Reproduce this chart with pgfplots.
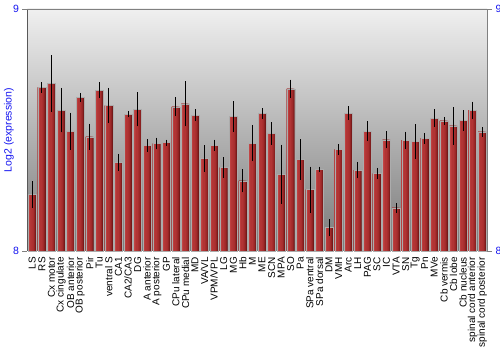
\documentclass[border=0pt]{standalone}
\usepackage{fontspec}
\setmainfont{Liberation Sans}
\usepackage{pgfplots}
\usepackage{pgfplotstable}
\pgfplotsset{compat=1.18}
\definecolor{bA}{RGB}{112,24,24}
\definecolor{bB}{RGB}{138,32,32}
\definecolor{bC}{RGB}{155,40,40}
\definecolor{bD}{RGB}{167,46,46}
\definecolor{bE}{RGB}{177,52,52}
\definecolor{bF}{RGB}{188,62,62}
\definecolor{bG}{RGB}{204,84,84}
\definecolor{lblblue}{RGB}{20,20,240}
\pgfplotstableread{
x y e
0 8.233 0.047
1 8.676 0.013
2 8.692 0.107
3 8.582 0.083
4 8.495 0.068
5 8.634 0.010
6 8.472 0.045
7 8.665 0.023
8 8.601 0.064
9 8.366 0.026
10 8.566 0.004
11 8.585 0.061
12 8.436 0.017
13 8.444 0.015
14 8.448 0.003
15 8.596 0.030
16 8.608 0.084
17 8.561 0.015
18 8.382 0.045
19 8.437 0.014
20 8.345 0.034
21 8.556 0.054
22 8.290 0.039
23 8.446 0.066
24 8.568 0.012
25 8.486 0.037
26 8.317 0.113
27 8.670 0.029
28 8.378 0.074
29 8.254 0.086
30 8.338 0.002
31 8.097 0.026
32 8.419 0.014
33 8.570 0.020
34 8.334 0.025
35 8.495 0.032
36 8.320 0.014
37 8.459 0.026
38 8.178 0.010
39 8.458 0.026
40 8.452 0.062
41 8.466 0.013
42 8.549 0.027
43 8.538 0.007
44 8.517 0.068
45 8.539 0.033
46 8.582 0.026
47 8.492 0.011
}\datatable
\begin{document}
\begin{tikzpicture}
\begin{axis}[
  at={(0,0)}, anchor=south west,
  scale only axis, width=459.5pt, height=242pt,
  xmin=-0.5, xmax=47.5, ymin=8, ymax=9,
  axis y line*=left, axis x line=none,
  axis background/.style={top color=gray!12, bottom color=gray!95!black},
  xtick=data,
  ytick={8,9},
  /pgf/number format/assume math mode=true,
  yticklabel style={font=\fontsize{10.5}{12}\selectfont, text=lblblue},
  tick align=outside, major tick length=5pt,
  y axis line style={black!65},
  ylabel={Log2 (expression)},
  ylabel style={at={(axis description cs:0,0.5)}, anchor=center, yshift=18.5pt, font=\fontsize{10.5}{12}\selectfont, text=lblblue},
  clip=false,
]
\addplot[ybar, forget plot, draw=none, fill=bA, bar width=0.83, bar shift=0] table[x=x, y=y] {\datatable};
\addplot[ybar, forget plot, draw=none, fill=bB, bar width=0.747, bar shift=-0.0415] table[x=x, y=y] {\datatable};
\addplot[ybar, forget plot, draw=none, fill=bC, bar width=0.664, bar shift=-0.083] table[x=x, y=y] {\datatable};
\addplot[ybar, forget plot, draw=none, fill=bD, bar width=0.581, bar shift=-0.1245] table[x=x, y=y] {\datatable};
\addplot[ybar, forget plot, draw=none, fill=bE, bar width=0.4565, bar shift=-0.18675] table[x=x, y=y] {\datatable};
\addplot[ybar, forget plot, draw=none, fill=bF, bar width=0.2075, bar shift=-0.31125] table[x=x, y=y] {\datatable};
\addplot[ybar, forget plot, draw=none, fill=bG, bar width=0.083, bar shift=-0.3735] table[x=x, y=y] {\datatable};
\addplot[ybar, forget plot, draw=gray!65, fill=none, line width=0.3pt, bar width=0.83, bar shift=0] table[x=x, y=y] {\datatable};
\addplot[forget plot, draw=none, mark=none,
  error bars/.cd, y dir=both, y explicit,
  error bar style={draw=black, line width=0.8pt},
  error mark=-,
  error mark options={draw=black, mark size=2.2pt, line width=0.8pt}]
  table[x=x, y=y, y error=e] {\datatable};
\draw[black!50] (rel axis cs:0,1) -- (rel axis cs:1,1);
\end{axis}
\begin{axis}[
  at={(0,0)}, anchor=south west,
  scale only axis, width=459.5pt, height=242pt,
  xmin=-0.5, xmax=47.5, ymin=8, ymax=9,
  axis y line*=right, axis x line*=bottom,
  x axis line style={draw=none},
  xtick={0,...,47},
  xticklabels={LS,RS,Cx motor,Cx cingulate,OB anterior,OB posterior,Pir,Tu,ventral S,CA1,CA2/CA3,DG,A anterior,A posterior,GP,CPu lateral,CPu medial,MD,VA/VL,VPM/VPL,LG,MG,Hb,M,ME,SCN,MPA,SO,Pa,SPa ventral,SPa dorsal,DM,VMH,Arc,LH,PAG,SC,IC,VTA,SN,Tg,Pn,MVe,Cb vermis,Cb lobe,Cb nucleus,spinal cord anterior,spinal cord posterior},
  xticklabel style={rotate=90, anchor=east, font=\fontsize{10}{12}\selectfont, inner sep=1pt},
  x tick style={draw=none},
  ytick={8,9},
  /pgf/number format/assume math mode=true,
  yticklabel style={font=\fontsize{10.5}{12}\selectfont, text=lblblue},
  tick align=outside, major tick length=5pt,
  y axis line style={black!50},
]
\end{axis}
\pgfresetboundingbox
\path (-27.5pt,-99pt) rectangle (472.5pt,251pt);
\end{tikzpicture}
\end{document}
